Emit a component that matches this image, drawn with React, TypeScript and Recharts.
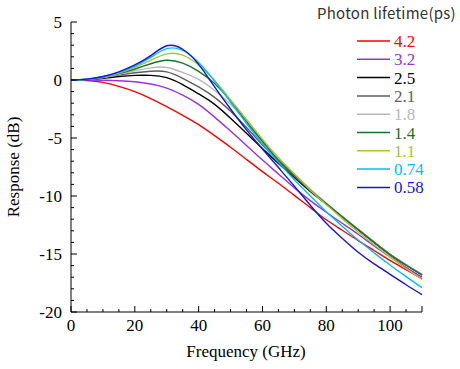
import React from 'react';
import { LineChart, Line, XAxis, YAxis, Legend } from 'recharts';

// Frequency (GHz)
const FREQ = [0, 5, 10, 15, 20, 25, 30, 35, 40, 45, 50, 55, 60, 65, 70, 75, 80, 85, 90, 95, 100, 105, 110];

// Response (dB) per photon lifetime
const T42 = [0, -0.04, -0.2, -0.55, -1.0, -1.6, -2.3, -3.05, -3.85, -4.8, -5.8, -6.85, -7.9, -8.9, -9.95, -11.0, -12.05, -12.95, -13.85, -14.7, -15.55, -16.35, -17.15];
const T32 = [0, 0.0, -0.02, -0.06, -0.15, -0.35, -0.7, -1.3, -2.1, -3.2, -4.4, -5.65, -6.9, -8.1, -9.3, -10.4, -11.4, -12.35, -13.3, -14.3, -15.25, -16.15, -17.0];
const T25 = [0, 0.04, 0.15, 0.3, 0.4, 0.4, 0.2, -0.4, -1.2, -2.1, -3.3, -4.6, -5.9, -7.2, -8.4, -9.6, -10.7, -11.8, -12.9, -14.0, -15.05, -15.95, -16.8];
const T21 = [0, 0.05, 0.2, 0.42, 0.62, 0.75, 0.7, 0.15, -0.6, -1.5, -2.7, -4.1, -5.6, -7.0, -8.3, -9.5, -10.65, -11.8, -12.9, -14.0, -15.05, -15.95, -16.8];
const T18 = [0, 0.05, 0.22, 0.5, 0.8, 1.05, 1.08, 0.65, 0.05, -0.9, -2.1, -3.6, -5.2, -6.7, -8.1, -9.4, -10.6, -11.75, -12.85, -13.95, -15.0, -15.9, -16.75];
const T14 = [0, 0.06, 0.25, 0.55, 0.95, 1.4, 1.7, 1.45, 0.75, -0.3, -1.8, -3.6, -5.3, -6.9, -8.2, -9.5, -10.65, -11.8, -12.9, -14.0, -15.05, -15.95, -16.8];
const T11 = [0, 0.06, 0.27, 0.6, 1.1, 1.7, 2.25, 2.15, 1.3, -0.05, -1.7, -3.4, -5.1, -6.7, -8.1, -9.5, -10.75, -11.95, -13.1, -14.2, -15.25, -16.25, -17.2];
const T074 = [0, 0.07, 0.28, 0.65, 1.2, 1.95, 2.7, 2.55, 1.5, -0.1, -1.9, -3.75, -5.5, -7.1, -8.6, -10.0, -11.35, -12.6, -13.8, -14.9, -15.95, -16.95, -17.9];
const T058 = [0, 0.08, 0.3, 0.7, 1.3, 2.1, 2.95, 2.65, 1.35, -0.6, -2.5, -4.3, -5.95, -7.55, -9.15, -10.8, -12.35, -13.65, -14.85, -15.85, -16.75, -17.65, -18.5];

const LIFETIMES = ['4.2', '3.2', '2.5', '2.1', '1.8', '1.4', '1.1', '0.74', '0.58'];
const VALUES = [T42, T32, T25, T21, T18, T14, T11, T074, T058];
const COLORS = ['#ff0000', '#9b30e6', '#000000', '#5e5e5e', '#b8b8b8', '#1f6e2a', '#a8c43c', '#00c0f0', '#1414dc'];

const X_MAJOR = [0, 20, 40, 60, 80, 100];
const Y_MAJOR = [-20, -15, -10, -5, 0, 5];
const X_TICKS: number[] = [];
for (let v = 0; v <= 110; v += 5) X_TICKS.push(v);
const Y_TICKS: number[] = [];
for (let v = -20; v <= 5; v += 1) Y_TICKS.push(v);

const data = FREQ.map((f, i) => {
  const row: Record<string, number> = { f };
  LIFETIMES.forEach((name, k) => {
    row['s' + k] = VALUES[k][i];
  });
  return row;
});

const SERIF = 'Liberation Serif';

const XTick = (props: any) => {
  const { x, y, payload } = props;
  const v = payload.value;
  const major = X_MAJOR.includes(v) || v === 110;
  return (
    <g>
      <line x1={x} x2={x} y1={y} y2={y - (major ? 6 : 3)} stroke="#000" strokeWidth={1} />
      {X_MAJOR.includes(v) && (
        <text x={x} y={y + 19} textAnchor="middle" fontFamily={SERIF} fontSize={17} fill="#000">
          {String(v)}
        </text>
      )}
    </g>
  );
};

const YTick = (props: any) => {
  const { x, y, payload } = props;
  const v = payload.value;
  const major = Y_MAJOR.includes(v);
  return (
    <g>
      <line x1={x} x2={x + (major ? 6 : 3)} y1={y} y2={y} stroke="#000" strokeWidth={1} />
      {major && (
        <text x={x - 9} y={y + 6} textAnchor="end" fontFamily={SERIF} fontSize={17} fill="#000">
          {String(v)}
        </text>
      )}
    </g>
  );
};

const LegendContent = () => (
  <svg width={160} height={200} style={{ display: 'block' }}>
    <text x={17} y={19} fontFamily="Noto Sans CJK JP" fontSize={15} letterSpacing={0.25} fill="#333">
      Photon lifetime(ps)
    </text>
    {LIFETIMES.map((name, k) => {
      const cy = 41 + k * 18.3;
      return (
        <g key={name}>
          <line x1={57} x2={90} y1={cy} y2={cy} stroke={COLORS[k]} strokeWidth={1.5} />
          <text x={94} y={cy + 6} fontFamily={SERIF} fontSize={17} fill={COLORS[k]}>
            {name}
          </text>
        </g>
      );
    })}
  </svg>
);

export default function App() {
  return (
    <div style={{ position: 'absolute', left: 0, top: 0, width: 460, height: 369, background: '#fff' }}>
      <LineChart width={460} height={369} data={data} margin={{ top: 22, right: 38, bottom: 12, left: 21 }}>
        <XAxis
          dataKey="f"
          type="number"
          domain={[0, 110]}
          ticks={X_TICKS}
          interval={0}
          height={45}
          tickSize={0}
          tickMargin={0}
          tickLine={false}
          tick={<XTick />}
          axisLine={{ stroke: '#000', strokeWidth: 1 }}
          label={{
            content: () => (
              <text x={246} y={357} textAnchor="middle" fontFamily={SERIF} fontSize={17} fill="#000">
                Frequency (GHz)
              </text>
            ),
          }}
        />
        <YAxis
          type="number"
          domain={[-20, 5]}
          ticks={Y_TICKS}
          interval={0}
          width={50}
          tickSize={0}
          tickMargin={0}
          tickLine={false}
          tick={<YTick />}
          axisLine={{ stroke: '#000', strokeWidth: 1 }}
          label={{
            content: () => (
              <text
                x={19}
                y={167}
                textAnchor="middle"
                transform="rotate(-90, 19, 167)"
                fontFamily={SERIF}
                fontSize={17}
                fill="#000"
              >
                Response (dB)
              </text>
            ),
          }}
        />
        <Legend
          layout="vertical"
          align="center"
          verticalAlign="middle"
          wrapperStyle={{ left: 300, top: 0, width: 160, height: 200 }}
          content={<LegendContent />}
        />
        {LIFETIMES.map((name, k) => (
          <Line
            key={name}
            name={name}
            dataKey={'s' + k}
            type="natural"
            stroke={COLORS[k]}
            strokeWidth={1.4}
            dot={false}
            activeDot={false}
            isAnimationActive={false}
          />
        ))}
      </LineChart>
    </div>
  );
}
